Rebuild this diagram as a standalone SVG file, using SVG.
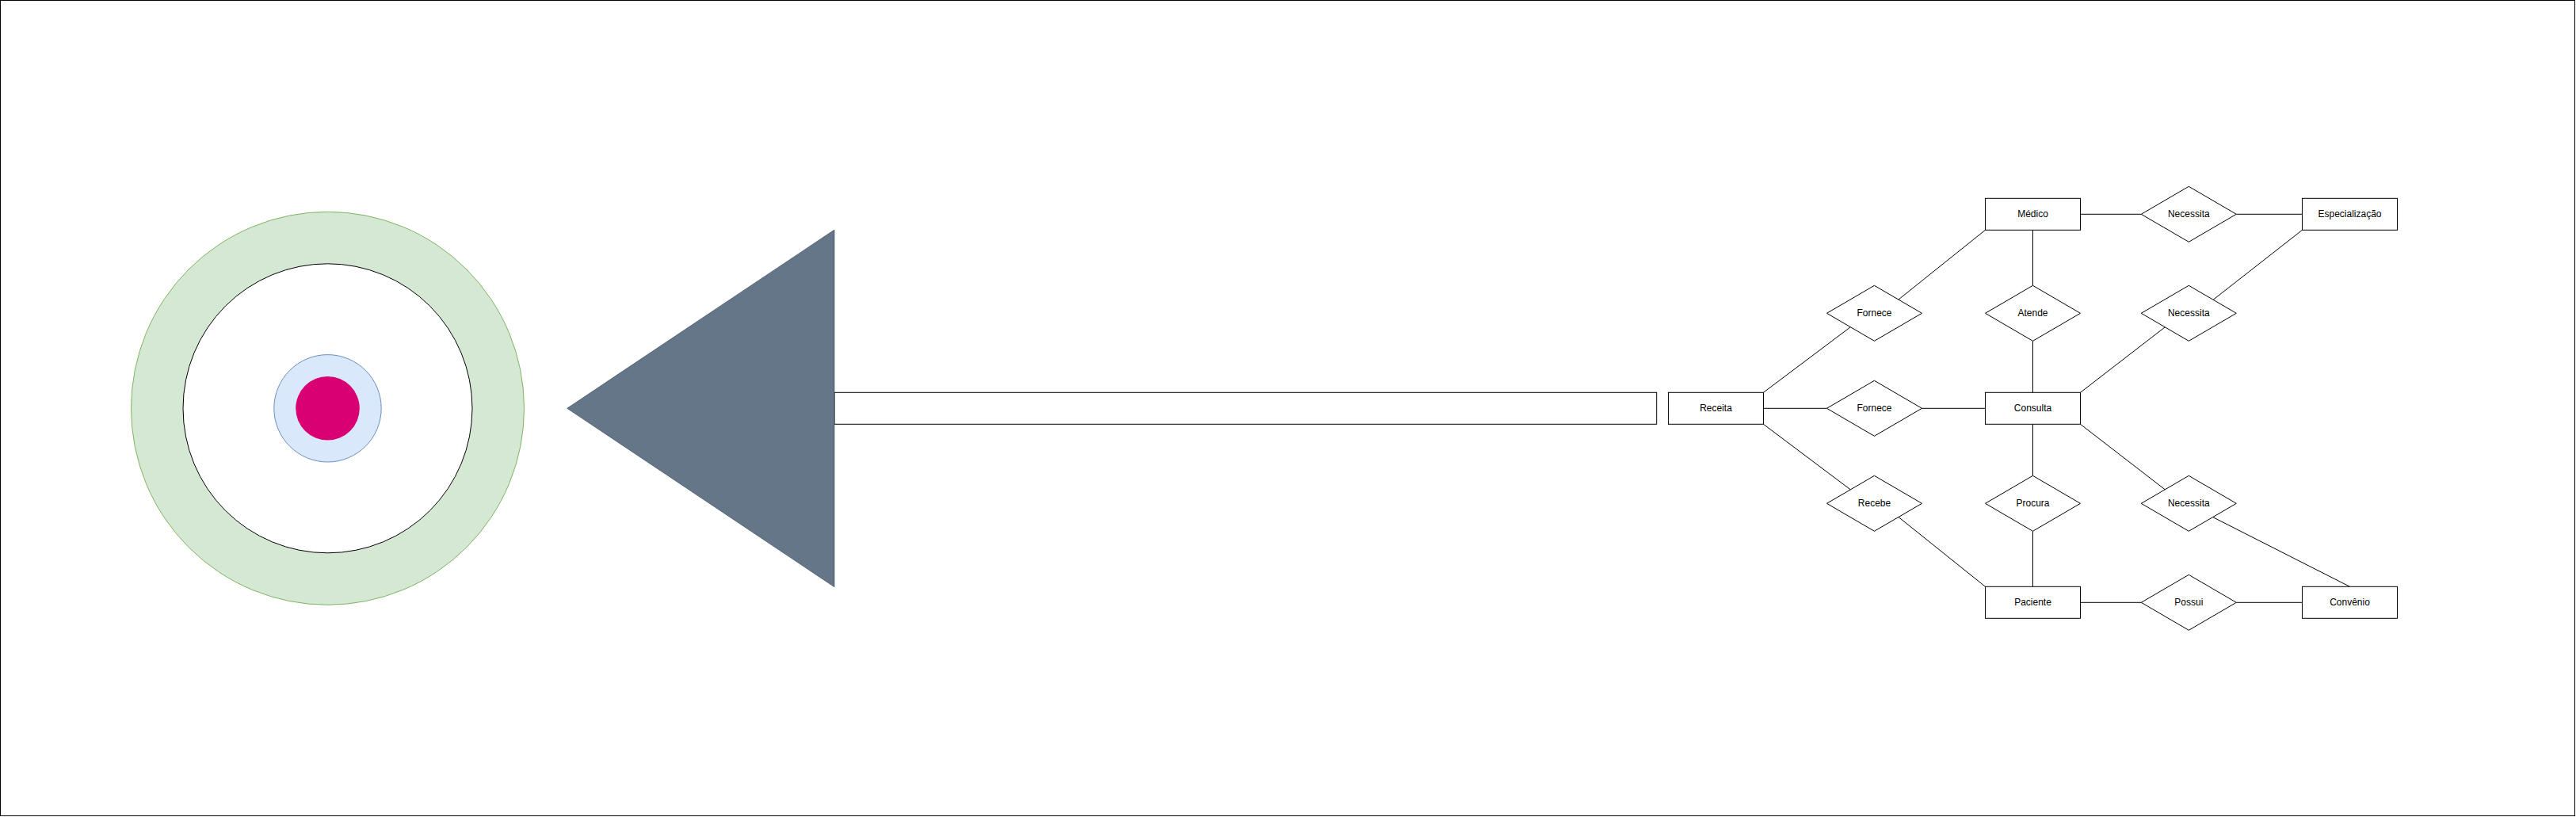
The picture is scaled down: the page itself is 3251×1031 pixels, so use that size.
<svg xmlns="http://www.w3.org/2000/svg" width="3251" height="1031" viewBox="0 0 3251 1031">
<style>
.ent{fill:#ffffff;stroke:#000000;stroke-width:1}
.rel{fill:#ffffff;stroke:#000000;stroke-width:1}
.lbl{font-family:"Liberation Sans",Arial,Helvetica,sans-serif;font-size:12px;fill:#000000;text-anchor:middle}
.conn line{stroke:#000000;stroke-width:1;fill:none}
</style>
<rect id="frame" x="0.5" y="0.5" width="3249" height="1029" fill="#ffffff" stroke="#000000" stroke-width="1"/>

<g id="target">
  <circle cx="413.5" cy="515.3" r="248" fill="#d5e8d4" stroke="#82b366" stroke-width="1"/>
  <circle cx="413.5" cy="515.3" r="182.5" fill="#ffffff" stroke="#000000" stroke-width="1"/>
  <circle cx="413.5" cy="515.3" r="67.7" fill="#dae8fc" stroke="#6c8ebf" stroke-width="1"/>
  <circle cx="413.5" cy="515.3" r="40.3" fill="#d80073" stroke="none"/>
</g>

<g id="arrow">
  <rect x="1053" y="495.3" width="1037.7" height="40" fill="#ffffff" stroke="#000000" stroke-width="1"/>
  <polygon points="1053,290 715.7,515.3 1053,740.7" fill="#647687" stroke="#314354" stroke-width="1" stroke-opacity="0.6"/>
</g>

<g id="connectors" class="conn">
  <line x1="2225.5" y1="495.3" x2="2335.4" y2="412.7"/>
  <line x1="2396" y1="378" x2="2505.5" y2="290.3"/>
  <line x1="2225.5" y1="515.3" x2="2305.5" y2="515.3"/>
  <line x1="2425.5" y1="515.3" x2="2505.5" y2="515.3"/>
  <line x1="2225.5" y1="535.3" x2="2335.4" y2="617.9"/>
  <line x1="2396" y1="652.5" x2="2505.5" y2="740.3"/>
  <line x1="2565.5" y1="290.3" x2="2565.5" y2="360.3"/>
  <line x1="2565.5" y1="430.3" x2="2565.5" y2="495.3"/>
  <line x1="2565.5" y1="535.3" x2="2565.5" y2="600.3"/>
  <line x1="2565.5" y1="670.3" x2="2565.5" y2="740.3"/>
  <line x1="2625.5" y1="270.3" x2="2702.3" y2="270.3"/>
  <line x1="2822.3" y1="270.3" x2="2905.5" y2="270.3"/>
  <line x1="2625.5" y1="495.3" x2="2732.3" y2="412.8"/>
  <line x1="2793.3" y1="378.1" x2="2905.5" y2="290.3"/>
  <line x1="2625.5" y1="535.3" x2="2732.3" y2="617.8"/>
  <line x1="2792.7" y1="652.6" x2="2965.5" y2="740.3"/>
  <line x1="2625.5" y1="760.3" x2="2702.3" y2="760.3"/>
  <line x1="2822.3" y1="760.3" x2="2905.5" y2="760.3"/>
</g>

<g id="receita">
  <rect class="ent" x="2105.5" y="495.3" width="120" height="40"/>
  <text class="lbl" x="2165.5" y="519.3">Receita</text>
</g>
<g id="medico">
  <rect class="ent" x="2505.5" y="250.3" width="120" height="40"/>
  <text class="lbl" x="2565.5" y="274.3">Médico</text>
</g>
<g id="consulta">
  <rect class="ent" x="2505.5" y="495.3" width="120" height="40"/>
  <text class="lbl" x="2565.5" y="519.3">Consulta</text>
</g>
<g id="paciente">
  <rect class="ent" x="2505.5" y="740.3" width="120" height="40"/>
  <text class="lbl" x="2565.5" y="764.3">Paciente</text>
</g>
<g id="especializacao">
  <rect class="ent" x="2905.5" y="250.3" width="120" height="40"/>
  <text class="lbl" x="2965.5" y="274.3">Especialização</text>
</g>
<g id="convenio">
  <rect class="ent" x="2905.5" y="740.3" width="120" height="40"/>
  <text class="lbl" x="2965.5" y="764.3">Convênio</text>
</g>

<g id="fornece1">
  <polygon class="rel" points="2365.5,360.3 2425.5,395.3 2365.5,430.3 2305.5,395.3"/>
  <text class="lbl" x="2365.5" y="399.3">Fornece</text>
</g>
<g id="fornece2">
  <polygon class="rel" points="2365.5,480.3 2425.5,515.3 2365.5,550.3 2305.5,515.3"/>
  <text class="lbl" x="2365.5" y="519.3">Fornece</text>
</g>
<g id="recebe">
  <polygon class="rel" points="2365.5,600.3 2425.5,635.3 2365.5,670.3 2305.5,635.3"/>
  <text class="lbl" x="2365.5" y="639.3">Recebe</text>
</g>
<g id="atende">
  <polygon class="rel" points="2565.5,360.3 2625.5,395.3 2565.5,430.3 2505.5,395.3"/>
  <text class="lbl" x="2565.5" y="399.3">Atende</text>
</g>
<g id="procura">
  <polygon class="rel" points="2565.5,600.3 2625.5,635.3 2565.5,670.3 2505.5,635.3"/>
  <text class="lbl" x="2565.5" y="639.3">Procura</text>
</g>
<g id="necessita1">
  <polygon class="rel" points="2762.3,235.3 2822.3,270.3 2762.3,305.3 2702.3,270.3"/>
  <text class="lbl" x="2762.3" y="274.3">Necessita</text>
</g>
<g id="necessita2">
  <polygon class="rel" points="2762.3,360.3 2822.3,395.3 2762.3,430.3 2702.3,395.3"/>
  <text class="lbl" x="2762.3" y="399.3">Necessita</text>
</g>
<g id="necessita3">
  <polygon class="rel" points="2762.3,600.3 2822.3,635.3 2762.3,670.3 2702.3,635.3"/>
  <text class="lbl" x="2762.3" y="639.3">Necessita</text>
</g>
<g id="possui">
  <polygon class="rel" points="2762.3,725.3 2822.3,760.3 2762.3,795.3 2702.3,760.3"/>
  <text class="lbl" x="2762.3" y="764.3">Possui</text>
</g>
</svg>
